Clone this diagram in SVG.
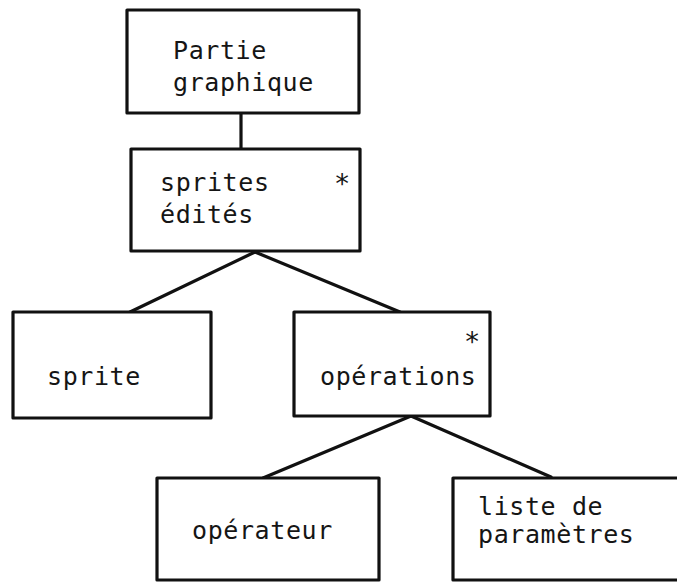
<svg xmlns="http://www.w3.org/2000/svg" width="677" height="583" viewBox="0 0 677 583">
<style>
.box{fill:#fff;stroke:#111;stroke-width:3.2;stroke-linejoin:round}
.ln{stroke:#111;stroke-width:3.2;fill:none;stroke-linecap:round}
text{font-family:"DejaVu Sans Mono","Liberation Mono",monospace;font-size:25px;letter-spacing:0.6px;fill:#151515}
.ast{font-size:27px}
</style>
<rect width="677" height="583" fill="#fff"/>
<g id="connectors">
<line class="ln" x1="241" y1="113" x2="241" y2="149"/>
<line class="ln" x1="255" y1="252" x2="130" y2="312"/>
<line class="ln" x1="255" y1="252" x2="400" y2="312"/>
<line class="ln" x1="411" y1="416" x2="263" y2="478"/>
<line class="ln" x1="411" y1="416" x2="551" y2="477"/>
</g>
<g id="partie-graphique">
<rect class="box" x="127" y="10" width="232" height="103"/>
<text x="173" y="59">Partie</text>
<text x="173" y="91">graphique</text>
</g>
<g id="sprites-edites">
<rect class="box" x="131" y="149" width="229" height="102"/>
<text x="160" y="191">sprites</text>
<text x="160" y="223">édités</text>
<text class="ast" x="334" y="193">*</text>
</g>
<g id="sprite">
<rect class="box" x="13" y="312" width="198" height="106"/>
<text x="47" y="385">sprite</text>
</g>
<g id="operations">
<rect class="box" x="294" y="312" width="196" height="104"/>
<text x="320" y="385">opérations</text>
<text class="ast" x="464" y="351">*</text>
</g>
<g id="operateur">
<rect class="box" x="157" y="478" width="222" height="102"/>
<text x="192" y="539">opérateur</text>
</g>
<g id="liste-parametres">
<rect class="box" x="453" y="478" width="240" height="102"/>
<text x="478" y="515">liste de</text>
<text x="478" y="543">paramètres</text>
</g>
</svg>
